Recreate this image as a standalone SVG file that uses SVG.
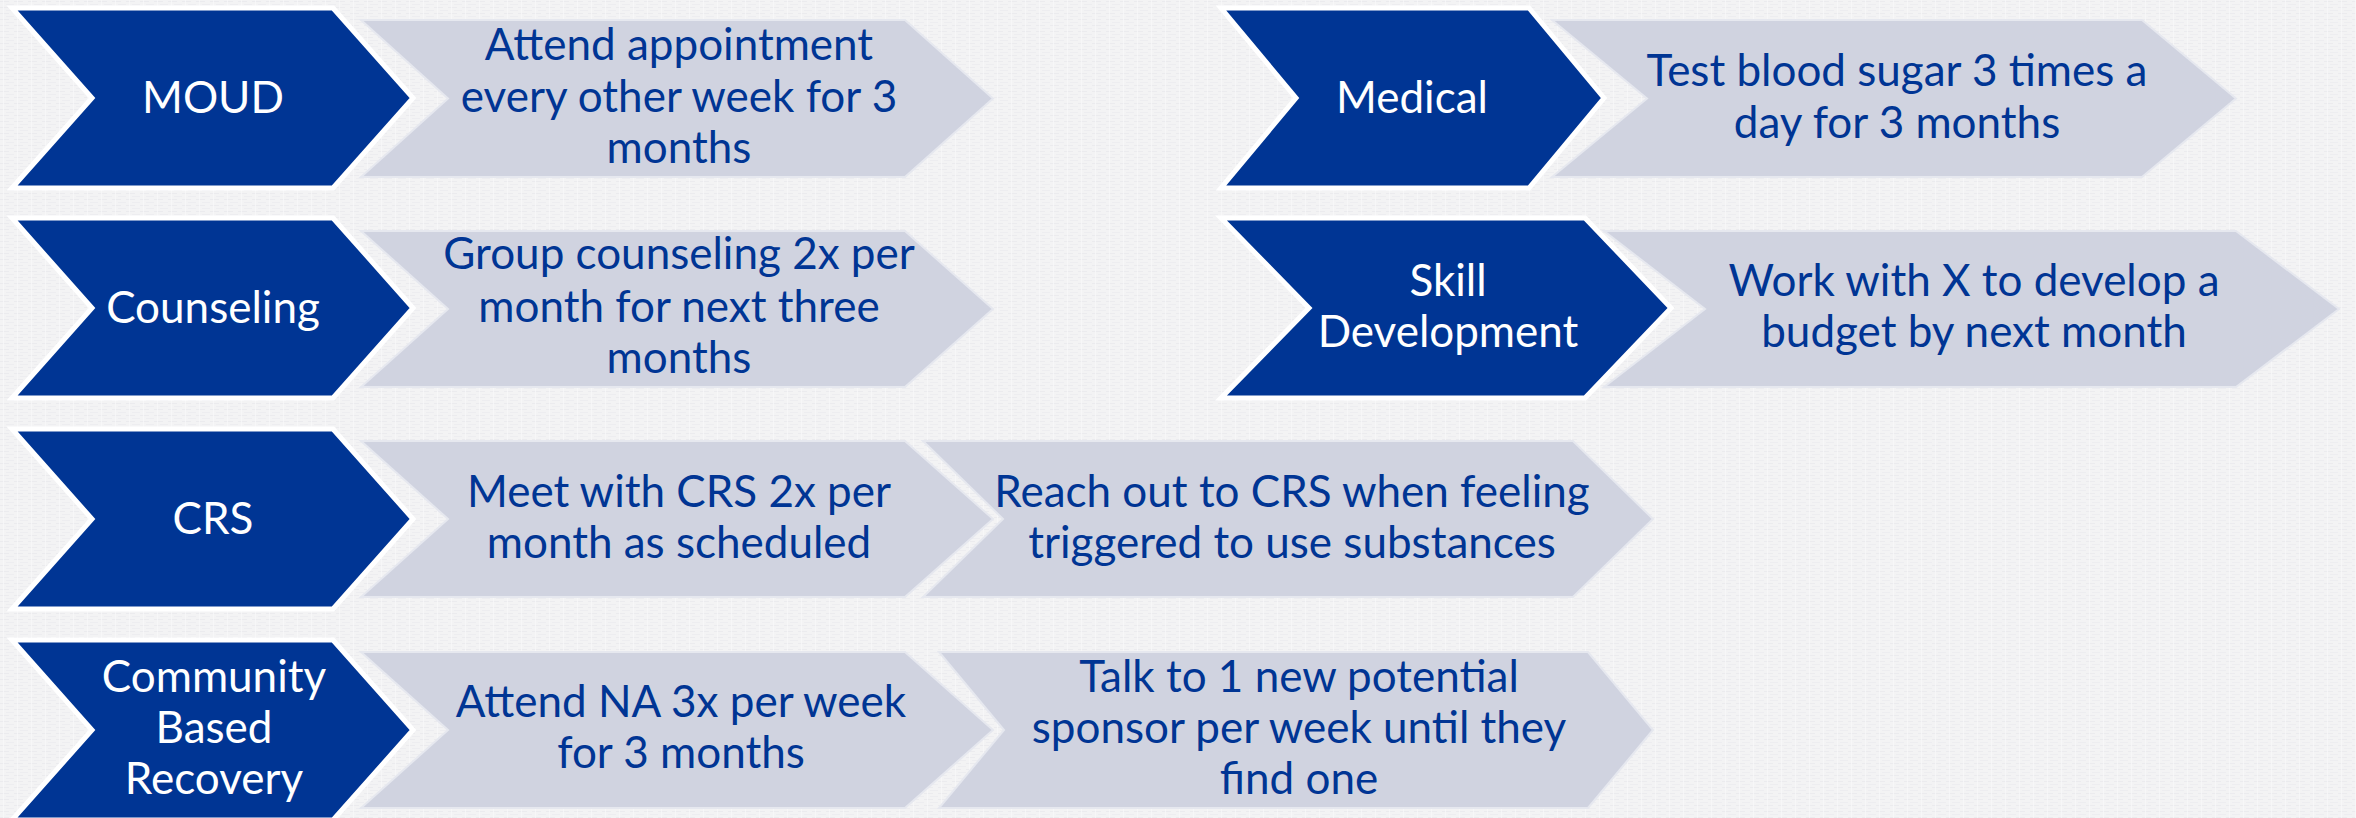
<svg xmlns="http://www.w3.org/2000/svg" width="2356" height="818" viewBox="0 0 2356 818">
  <defs>
    <!-- faint linen weave for the backdrop -->
    <pattern id="linen" width="14" height="6" patternUnits="userSpaceOnUse">
      <rect width="14" height="6" fill="#f3f3f4"/>
      <rect x="0" y="1" width="9" height="1" fill="#e9e9eb" opacity="0.7"/>
      <rect x="6" y="4" width="8" height="1" fill="#eaeaec" opacity="0.6"/>
      <rect x="3" y="0" width="1" height="6" fill="#f8f8f9" opacity="0.8"/>
    </pattern>
    <style>
      .area { fill: #003594; stroke: #ffffff; stroke-width: 5; stroke-linejoin: miter; }
      .step { fill: #d0d3e0; stroke: #e6e8ef; stroke-width: 2; stroke-linejoin: miter; }
      .lbl { font-family: "Lato", "Liberation Sans", sans-serif; font-size: 44px; text-anchor: middle; }
      .area-t { fill: #ffffff; }
      .step-t { fill: #003594; }
    </style>
  </defs>

  <rect width="2356" height="818" fill="url(#linen)"/>

  <!-- row 1 -->
  <g id="moud">
    <polygon class="area" points="12,8 333,8 413,98 333,188 12,188 92,98"/>
    <text class="lbl area-t" x="213" y="113">MOUD</text>
  </g>
  <g id="moud-step1">
    <polygon class="step" points="361,20 905,20 993,98.5 905,177 361,177 448,98.5"/>
    <text class="lbl step-t" x="679" y="60">Attend appointment</text>
    <text class="lbl step-t" x="679" y="112">every other week for 3</text>
    <text class="lbl step-t" x="679" y="163">months</text>
  </g>
  <g id="medical">
    <polygon class="area" points="1221,8 1529,8 1604,98 1529,188 1221,188 1296,98"/>
    <text class="lbl area-t" x="1412" y="113">Medical</text>
  </g>
  <g id="medical-step1">
    <polygon class="step" points="1552,20 2142,20 2236,98.5 2142,177 1552,177 1647,98.5"/>
    <text class="lbl step-t" x="1897" y="86">Test blood sugar 3 times a</text>
    <text class="lbl step-t" x="1897" y="138">day for 3 months</text>
  </g>

  <!-- row 2 -->
  <g id="counseling">
    <polygon class="area" points="12,218 333,218 413,308 333,398 12,398 92,308"/>
    <text class="lbl area-t" x="213" y="323">Counseling</text>
  </g>
  <g id="counseling-step1">
    <polygon class="step" points="361,231 905,231 993,309 905,387 361,387 448,309"/>
    <text class="lbl step-t" x="679" y="269">Group counseling 2x per</text>
    <text class="lbl step-t" x="679" y="322">month for next three</text>
    <text class="lbl step-t" x="679" y="373">months</text>
  </g>
  <g id="skill-development">
    <polygon class="area" points="1221,218 1585,218 1671,308 1585,398 1221,398 1309,308"/>
    <text class="lbl area-t" x="1448" y="296">Skill</text>
    <text class="lbl area-t" x="1448" y="347">Development</text>
  </g>
  <g id="skill-step1">
    <polygon class="step" points="1604,231 2236,231 2339,309 2236,387 1604,387 1705,309"/>
    <text class="lbl step-t" x="1974" y="296">Work with X to develop a</text>
    <text class="lbl step-t" x="1974" y="347">budget by next month</text>
  </g>

  <!-- row 3 -->
  <g id="crs">
    <polygon class="area" points="12,429 333,429 413,519 333,609 12,609 92,519"/>
    <text class="lbl area-t" x="213" y="534">CRS</text>
  </g>
  <g id="crs-step1">
    <polygon class="step" points="361,441 905,441 993,519 905,597 361,597 448,519"/>
    <text class="lbl step-t" x="679" y="507">Meet with CRS 2x per</text>
    <text class="lbl step-t" x="679" y="558">month as scheduled</text>
  </g>
  <g id="crs-step2">
    <polygon class="step" points="923,441 1573,441 1653,519 1573,597 923,597 1003,519"/>
    <text class="lbl step-t" x="1292" y="507">Reach out to CRS when feeling</text>
    <text class="lbl step-t" x="1292" y="558">triggered to use substances</text>
  </g>

  <!-- row 4 -->
  <g id="community">
    <polygon class="area" points="12,640 333,640 413,730 333,820 12,820 92,730"/>
    <text class="lbl area-t" x="214" y="692">Community</text>
    <text class="lbl area-t" x="214" y="743">Based</text>
    <text class="lbl area-t" x="214" y="794">Recovery</text>
  </g>
  <g id="community-step1">
    <polygon class="step" points="361,652 905,652 993,730 905,808 361,808 448,730"/>
    <text class="lbl step-t" x="681" y="717">Attend NA 3x per week</text>
    <text class="lbl step-t" x="681" y="768">for 3 months</text>
  </g>
  <g id="community-step2">
    <polygon class="step" points="939,652 1588,652 1653,730 1588,808 939,808 1004,730"/>
    <text class="lbl step-t" x="1299" y="692">Talk to 1 new potential</text>
    <text class="lbl step-t" x="1299" y="743">sponsor per week until they</text>
    <text class="lbl step-t" x="1299" y="794">find one</text>
  </g>

  <!-- no connectors: the chevrons abut one another -->
  <g id="connectors"/>
</svg>
